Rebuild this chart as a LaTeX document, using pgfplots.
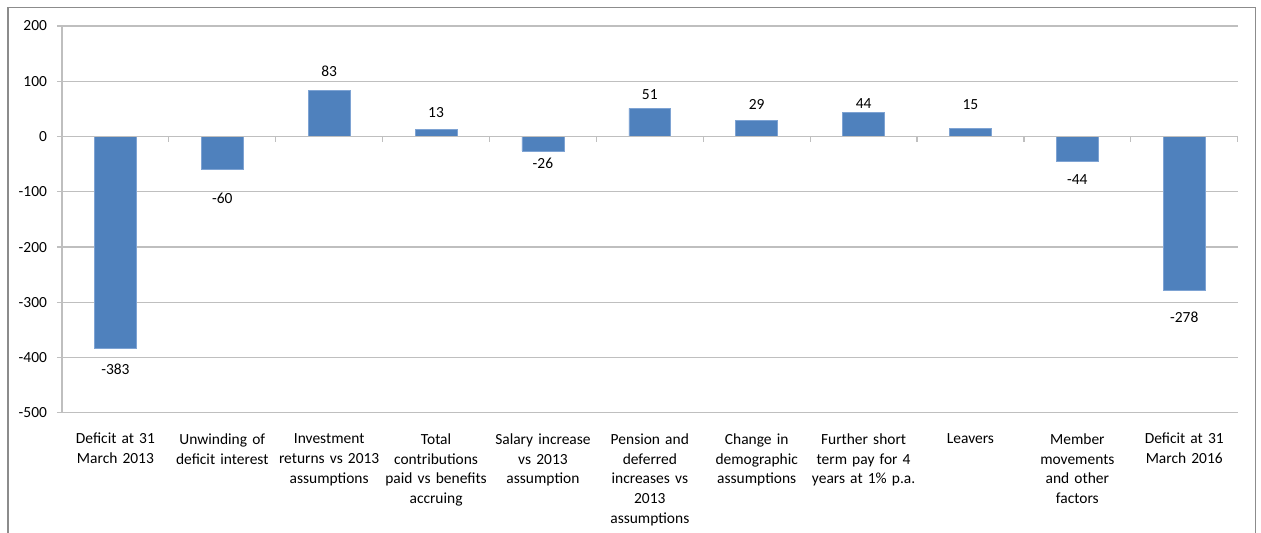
\documentclass[border=0pt]{standalone}
\usepackage{pgfplots}
\usepackage{pgfplotstable}
\pgfplotsset{compat=1.18}
\usepackage{fontspec}
\setmainfont{Carlito}
\definecolor{barblue}{HTML}{4F81BD}
\definecolor{baredge}{HTML}{7EA3D3}
\definecolor{gridgray}{HTML}{BFBFBF}
\definecolor{framegray}{HTML}{8C8C8C}
\pgfplotstableread{
x y off
0 -383 -15.75
1 -60 -21.75
2 83 14.25
3 13 12.75
4 -26 -9
5 51 10.5
6 29 12
7 44 6.75
8 15 18
9 -44 -14.25
10 -278 -20.25
}\datatable
\begin{document}
\begin{tikzpicture}[x=1pt,y=1pt]
\path[use as bounding box] (0,0) rectangle (946,-399.75);
\draw[framegray, line width=1.2pt] (6,-399.75) -- (6,-5.5) -- (942,-5.5) -- (942,-399.75);
\begin{axis}[
  at={(46.5pt,-309.75pt)}, anchor=south west,
  scale only axis, width=882pt, height=290.25pt,
  xmin=-0.5, xmax=10.5, ymin=-500, ymax=200,
  ytick={-500,-400,...,200},
  ymajorgrids, grid style={gridgray, line width=0.9pt},
  axis x line=bottom, axis y line=left,
  x axis line style={draw=none, -},
  y axis line style={gridgray, line width=0.9pt, -},
  tick style={gridgray, line width=0.9pt},
  ytick pos=left, tick align=outside,
  major tick length=3.75pt,
  xtick=data, x tick style={draw=none},
  xticklabels={
    {Deficit at 31\\March 2013},
    {Unwinding of\\deficit interest},
    {Investment\\returns vs 2013\\assumptions},
    {Total\\contributions\\paid vs benefits\\accruing},
    {Salary increase\\vs 2013\\assumption},
    {Pension and\\deferred\\increases vs\\2013\\assumptions},
    {Change in\\demographic\\assumptions},
    {Further short\\term pay for 4\\years at 1\% p.a.},
    {Leavers},
    {Member\\movements\\and other\\factors},
    {Deficit at 31\\March 2016}},
  xticklabel style={text width=82pt, align=center, anchor=north, yshift=-8pt, font=\fontsize{11.6pt}{15pt}\selectfont},
  yticklabel style={font=\fontsize{11.6pt}{15pt}\selectfont, xshift=-4pt},
  /pgf/number format/assume math mode=true,
  /pgf/number format/fixed,
  /pgf/number format/1000 sep={},
  ybar, bar width=31.5pt, bar shift=0pt,
  clip=false,
]
\addplot[fill=barblue, draw=baredge, line width=0.5pt,
  visualization depends on={\thisrow{off} \as \myoff},
  nodes near coords,
  nodes near coords align={center},
  every node near coord/.append style={font=\fontsize{11.6pt}{15pt}\selectfont, black, anchor=center, yshift=\myoff pt},
] table[x=x, y=y] {\datatable};
\draw[gridgray, line width=0.9pt] (axis cs:-0.5,0) -- (axis cs:10.5,0);
\pgfplotsinvokeforeach{0.5,1.5,2.5,3.5,4.5,5.5,6.5,7.5,8.5,9.5,10.5}{
  \draw[gridgray, line width=0.9pt] (axis cs:#1,0) -- ([yshift=-3.75pt]axis cs:#1,0);
}
\end{axis}
\end{tikzpicture}
\end{document}
